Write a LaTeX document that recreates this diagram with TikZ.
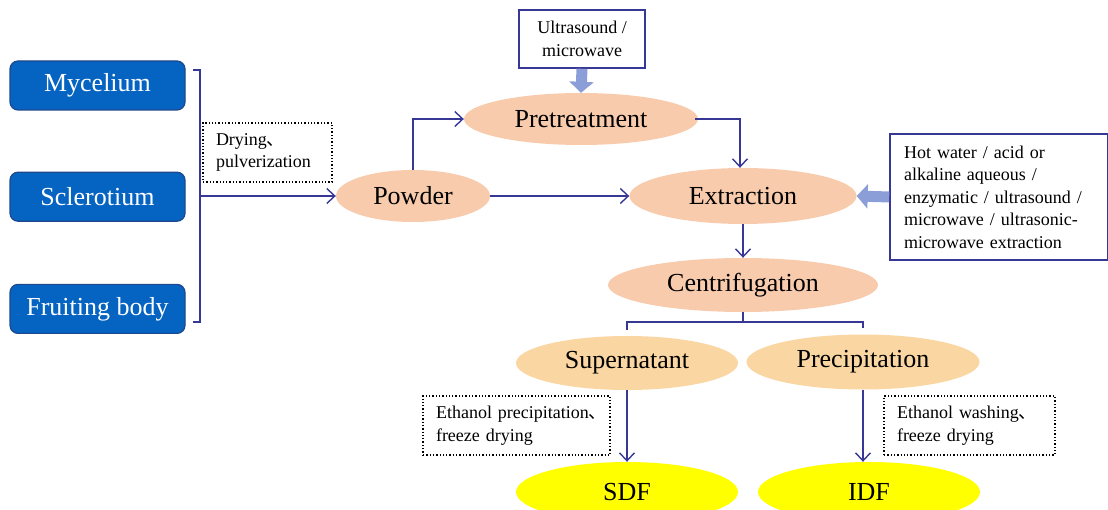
\documentclass[tikz,border=0pt]{standalone}
\usepackage{fontspec}
\setmainfont{Liberation Serif}
\newfontfamily\cjk{Noto Sans CJK SC}
\usepackage{xcolor}
\usepackage{tikz}
\usetikzlibrary{arrows.meta,positioning,shapes.geometric}

\definecolor{boxblue}{RGB}{5,99,193}
\definecolor{boxedge}{RGB}{30,72,140}
\definecolor{peach}{RGB}{248,203,173}
\definecolor{sand}{RGB}{250,214,162}
\definecolor{fiberyellow}{RGB}{255,255,0}
\definecolor{linkblue}{RGB}{55,55,150}
\definecolor{fatblue}{RGB}{140,158,215}

\tikzset{
  bigtext/.style={font=\fontsize{26}{30}\selectfont},
  smalltext/.style={font=\fontsize{18}{22.5}\selectfont},
  source/.style={bigtext, draw=boxedge, line width=1.2pt, fill=boxblue, text=white,
    rounded corners=8pt, minimum width=175pt, minimum height=49pt, inner sep=0pt},
  stage/.style={bigtext, ellipse, fill=peach, inner sep=0pt},
  fraction/.style={stage, fill=sand},
  product/.style={stage, fill=fiberyellow},
  note/.style={smalltext, draw, dotted, line width=1.3pt, align=left,
    inner xsep=13pt, minimum height=59pt},
  method/.style={smalltext, draw=linkblue, line width=1.6pt, inner xsep=14pt},
  link/.style={draw=linkblue, line width=1.4pt},
  linkarrow/.style={link, -{Straight Barb[length=8pt,width=15pt,line width=1.4pt]}},
  fatarrow/.style={draw=fatblue, line width=11pt, -{Triangle[length=11pt,width=24pt]}}
}

\begin{document}
\begin{tikzpicture}[x=1pt,y=-1pt]
  \useasboundingbox (0,0) rectangle (1108,510);
  \clip (0,0) rectangle (1108,510);

  % Raw materials
  \node[source] (myc) at (97.5,85.5) {Mycelium};
  \node[source, below=61pt of myc] (scl) {Sclerotium};
  \node[source, below=62pt of scl] (fru) {Fruiting body};

  % Processing stages
  \node[stage, minimum width=154pt, minimum height=52pt] (pow) at (413,196) {Powder};
  \node[stage, minimum width=234pt, minimum height=52pt] (pre) at (581,119) {Pretreatment};
  \node[stage, minimum width=227pt, minimum height=56pt] (ext) at (743,196) {Extraction};
  \node[stage, minimum width=270pt, minimum height=54pt] (cen) at (743,285) {Centrifugation};
  \node[fraction, minimum width=222pt, minimum height=54pt] (sup) at (627,363) {Supernatant};
  \node[fraction, minimum width=233pt, minimum height=55pt] (prc) at (863,362) {Precipitation};
  \node[product, minimum width=222pt, minimum height=60pt] (sdf) at (627,492) {SDF};
  \node[product, minimum width=222pt, minimum height=60pt] (idf) at (869,492) {IDF};

  % Method boxes
  \node[method, align=center, minimum width=126pt, minimum height=58pt] (ultra) at (582,39)
    {Ultrasound /\\microwave};
  \node[method, align=left, text width=190pt, minimum height=126pt] (hot) at (999,197)
    {Hot water / acid or\\alkaline aqueous /\\enzymatic / ultrasound /\\microwave / ultrasonic-\\microwave extraction};
  \node[note, text width=103pt] (dry) at (267.5,152.5) {Drying{\cjk 、}\\pulverization};
  \node[note, text width=161pt] (eth1) at (516.5,425.5)
    {\mbox{Ethanol precipitation{\cjk 、}}\\freeze drying};
  \node[note, text width=145pt] (eth2) at (969.5,425.5)
    {\mbox{Ethanol washing{\cjk 、}}\\freeze drying};

  % Bracket joining the raw materials
  \coordinate (join) at (200,196);
  \draw[link] (193,70) -- (200,70) -- (200,322) -- (193,322);
  \draw[linkarrow] (join) -- (pow.west);

  % Main flow
  \draw[linkarrow] (pow.north) |- (pre.west);
  \draw[linkarrow] (pow.east) -- (ext.west);
  \draw[linkarrow] ([xshift=-3pt]pre.east) -| ([xshift=-3pt]ext.north);
  \draw[linkarrow] (ext.south) -- (cen.north);
  \draw[fatarrow] (ultra.south) -- (pre.north);
  \draw[fatarrow] (hot.west) -- (ext.east);

  % Split into fractions
  \coordinate (split) at ([yshift=-10pt]cen.south);
  \draw[link] (cen.south) -- (split);
  \draw[link] ([yshift=6pt]sup.north) |- (split) -| ([yshift=6pt]prc.north);
  \draw[linkarrow] (sup.south) -- (sdf.north);
  \draw[linkarrow] (prc.south) -- (prc.south |- idf.north);
\end{tikzpicture}
\end{document}
